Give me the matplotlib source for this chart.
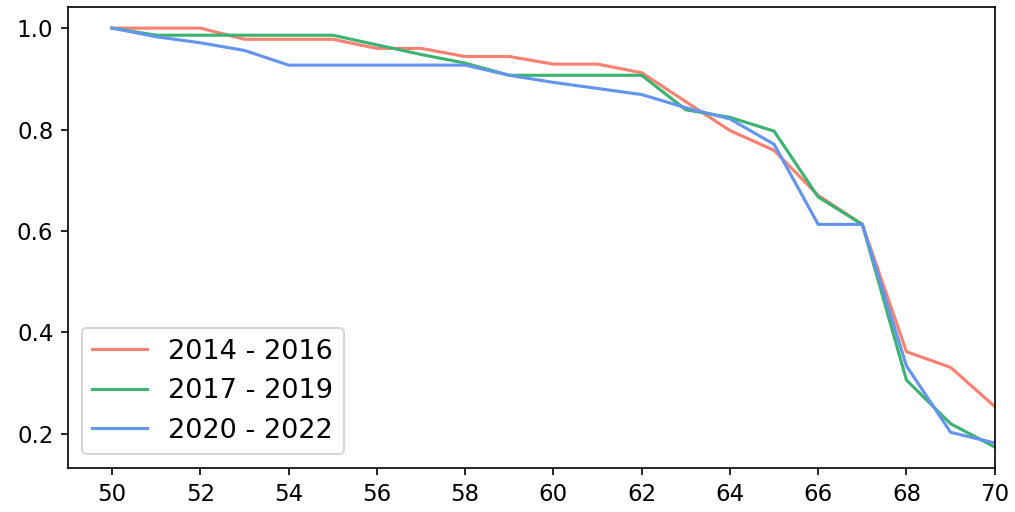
import matplotlib
matplotlib.use("Agg")
import matplotlib.pyplot as plt

ages = list(range(50, 71))
y_2014_2016 = [1.0, 1.0, 1.0, 0.978, 0.978, 0.978, 0.96, 0.96, 0.944, 0.944, 0.929,
               0.929, 0.912, 0.855, 0.798, 0.759, 0.67, 0.613, 0.362, 0.331, 0.254]
y_2017_2019 = [1.0, 0.986, 0.986, 0.986, 0.986, 0.986, 0.967, 0.948, 0.931, 0.907, 0.907,
               0.907, 0.907, 0.839, 0.824, 0.797, 0.667, 0.613, 0.306, 0.220, 0.174]
y_2020_2022 = [1.0, 0.983, 0.971, 0.956, 0.927, 0.927, 0.927, 0.927, 0.927, 0.907, 0.893,
               0.881, 0.869, 0.843, 0.821, 0.771, 0.613, 0.613, 0.334, 0.203, 0.182]
labels = ["2014 - 2016", "2017 - 2019", "2020 - 2022"]
colors = ["salmon", "mediumseagreen", "cornflowerblue"]

fig, ax = plt.subplots(figsize=(1015 / 150, 512 / 150), dpi=150)
fig.subplots_adjust(left=0.067, right=0.980, top=0.986, bottom=0.086)

for ys, lab, c in zip([y_2014_2016, y_2017_2019, y_2020_2022], labels, colors):
    ax.plot(ages, ys, color=c, label=lab, linewidth=1.5)

ax.set_xlim(49, 70)
ax.set_xticks(range(50, 71, 2))
ax.set_yticks([0.2, 0.4, 0.6, 0.8, 1.0])
ax.tick_params(labelsize=11)
ax.legend(loc="lower left", fontsize=13)

fig.savefig("out.png", dpi=150)
